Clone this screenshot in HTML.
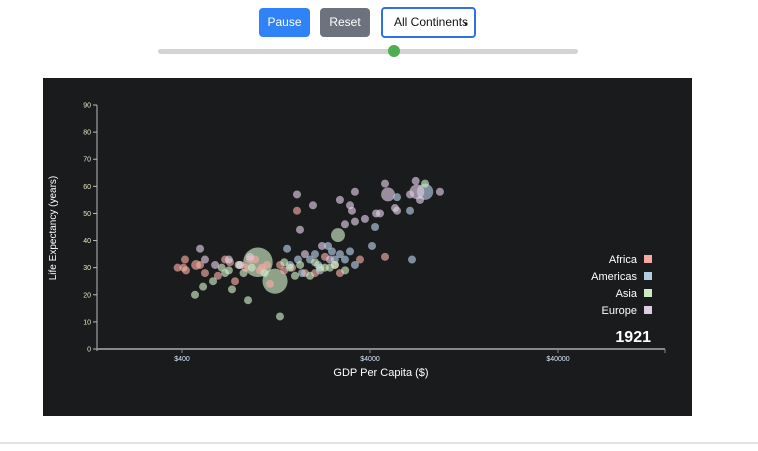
<!DOCTYPE html>
<html><head><meta charset="utf-8"><style>
body{margin:0;width:758px;height:451px;background:#fff;font-family:"Liberation Sans",sans-serif;position:relative;overflow:hidden}
.btn{position:absolute;top:8px;height:29px;border-radius:4px;color:#fff;font-size:12px;line-height:29px;text-align:center}
</style></head><body>
<div class="btn" style="left:259px;width:51px;background:#2f83f7">Pause</div>
<div class="btn" style="left:320px;width:50px;background:#6c737f">Reset</div>
<div style="position:absolute;left:381px;top:7px;height:27px;border:2px solid #2f6fe8;border-radius:4px;font-size:12px;line-height:27px;color:#111;padding-left:11px;box-sizing:content-box;width:80px">All Continents<span style="font-size:7px;margin-left:-4px">▾</span></div>
<div style="position:absolute;left:158px;top:49px;width:420px;height:5px;background:#d3d3d3;border-radius:3px"></div>
<div style="position:absolute;left:388px;top:45px;width:12px;height:12px;background:#4caf50;border-radius:50%"></div>
<div style="position:absolute;left:0;top:442px;width:758px;height:2px;background:#e2e2e2"></div>
<svg style="position:absolute;left:43px;top:78px" width="649" height="338">
<rect width="649" height="338" fill="#1a1b1d"/>
<g id="plot"></g>
</svg>
<script>
const continents=["Africa","Americas","Asia","Europe"];
const colors=["#f4aaa3","#b3cde3","#ccebc5","#decbe4"];
const gdp=[379,407,415,420,475,499,530,621,678,766,814,920,1040,1133,1175,1636,1803,2305,2605,2768,4808,3539,
720,870,980,1065,1330,1400,1540,2040,
1449,1656,1738,2039,2168,2391,2511,2768,2944,3131,3327,4100,4255,6530,6690,7850,5570,
1500,1920,2120,2600,
469,518,585,678,738,1014,1250,1328,898,1596,2168,2703,7850,2449,1919,
650,710,800,850,940,1100,1400,1500,1700,2040,2300,2600,2950,
499,530,814,1636,1990,1697,2222,2449,2944,2768,3327,3131,4310,4988,4520,5570,7000,7110,7380,9420,4808,6530,5433,3207,3327,1803,3761,
600,710,920];
const life=[30,30,33,29,31,31,28,27,33,25,31,33,29,31,24,51,28,34,31,28,34,33,
32,30,33,30,31,29,30,28,
37,33,28,35,29,38,36,35,33,36,31,38,45,51,33,58,56,
31,33,31,33,
20,23,25,28,22,32,25,12,18,27,30,42,61,30,27,
30,29,31,28,30,28,32,30,31,32,30,31,29,
37,33,31,57,53,44,38,33,46,55,47,53,50,57,50,51,62,58,55,58,61,57,52,51,58,35,48,
31,33,34];
const cont=[0,0,0,0,0,0,0,0,0,0,0,0,0,0,0,0,0,0,0,0,0,0,
0,0,0,0,0,0,0,0,
1,1,1,1,1,1,1,1,1,1,1,1,1,1,1,1,1,
1,1,1,1,
2,2,2,2,2,2,2,2,2,2,2,2,2,2,2,
2,2,2,2,2,2,2,2,2,2,2,2,2,
3,3,3,3,3,3,3,3,3,3,3,3,3,3,3,3,3,3,3,3,3,3,3,3,3,3,3,
3,3,3];
const pop=[13,13,13,13,20,13,13,13,13,13,13,13,13,13,13,13,13,13,13,13,13,13,
13,13,13,13,13,13,13,13,
13,13,13,13,13,13,13,13,13,13,13,13,13,13,13,55,13,
13,13,13,13,
13,13,13,13,13,180,130,13,13,13,13,40,13,13,13,
13,13,13,13,13,13,13,13,13,13,13,13,13,
13,13,13,13,13,13,13,13,13,13,13,13,13,40,13,13,13,45,13,13,13,13,13,13,13,13,13,
13,13,13];
const yTicks=[0,10,20,30,40,50,60,70,80,90];
const xTicks=[400,4000,40000];
const year="1921";
const NS="http://www.w3.org/2000/svg";
const g=document.getElementById('plot');
const X0=54,X1=622,Y0=271,Y1=27;
const lmin=Math.log10(400)-85/188,lmax=Math.log10(400)+(X1-X0-85)/188;
const xs=v=>X0+(Math.log10(v)-lmin)/(lmax-lmin)*(X1-X0);
const ys=v=>Y0-(v/90)*(Y0-Y1);
function el(t,a,txt){const e=document.createElementNS(NS,t);for(const k in a)e.setAttribute(k,a[k]);if(txt!=null)e.textContent=txt;g.appendChild(e);return e;}
let e=el('line',{x1:X0,x2:X0,y1:Y1,y2:Y0+2,stroke:'#bbb','stroke-width':1});

e=el('line',{x1:X0,x2:X1,y1:Y0,y2:Y0,stroke:'#888','stroke-width':2});

el('line',{x1:X1,x2:X1,y1:Y0,y2:Y0+4,stroke:'#888'});
yTicks.forEach(v=>{const y=ys(v);
el('line',{x1:X0-4,x2:X0,y1:y,y2:y,stroke:'#bbb'});
const t=el('text',{x:X0-6,y:y+2.5,'text-anchor':'end','font-size':7,fill:'#eee8c8'},v);
});
xTicks.forEach(v=>{const x=xs(v);
el('line',{x1:x,x2:x,y1:Y0,y2:Y0+4,stroke:'#888'});
const t=el('text',{x:x,y:Y0+12,'text-anchor':'middle','font-size':7,fill:'#d8e8ff'},'$'+v);
});
e=el('text',{x:338,y:298,'text-anchor':'middle','font-size':11,fill:'#fff'},'GDP Per Capita ($)');

e=el('text',{x:0,y:0,transform:'translate(13,150) rotate(-90)','text-anchor':'middle','font-size':10,fill:'#fff'},'Life Expectancy (years)');

const idx=gdp.map((_,i)=>i).sort((a,b)=>pop[b]-pop[a]);
idx.forEach(i=>{const c=el('circle',{cx:xs(gdp[i]),cy:ys(life[i]),r:Math.max(4,1.1*Math.sqrt(pop[i])),fill:colors[cont[i]],'fill-opacity':0.65});
});
continents.forEach((n,i)=>{const y=181+i*17;
const t=el('text',{x:594,y:y+4,'text-anchor':'end','font-size':11,fill:'#fff'},n);

const r=el('rect',{x:601,y:y-4,width:8,height:8,fill:colors[i]});
});
e=el('text',{x:608,y:264,'text-anchor':'end','font-size':16,'font-weight':'bold',fill:'#fff'},year);

</script>
</body></html>
